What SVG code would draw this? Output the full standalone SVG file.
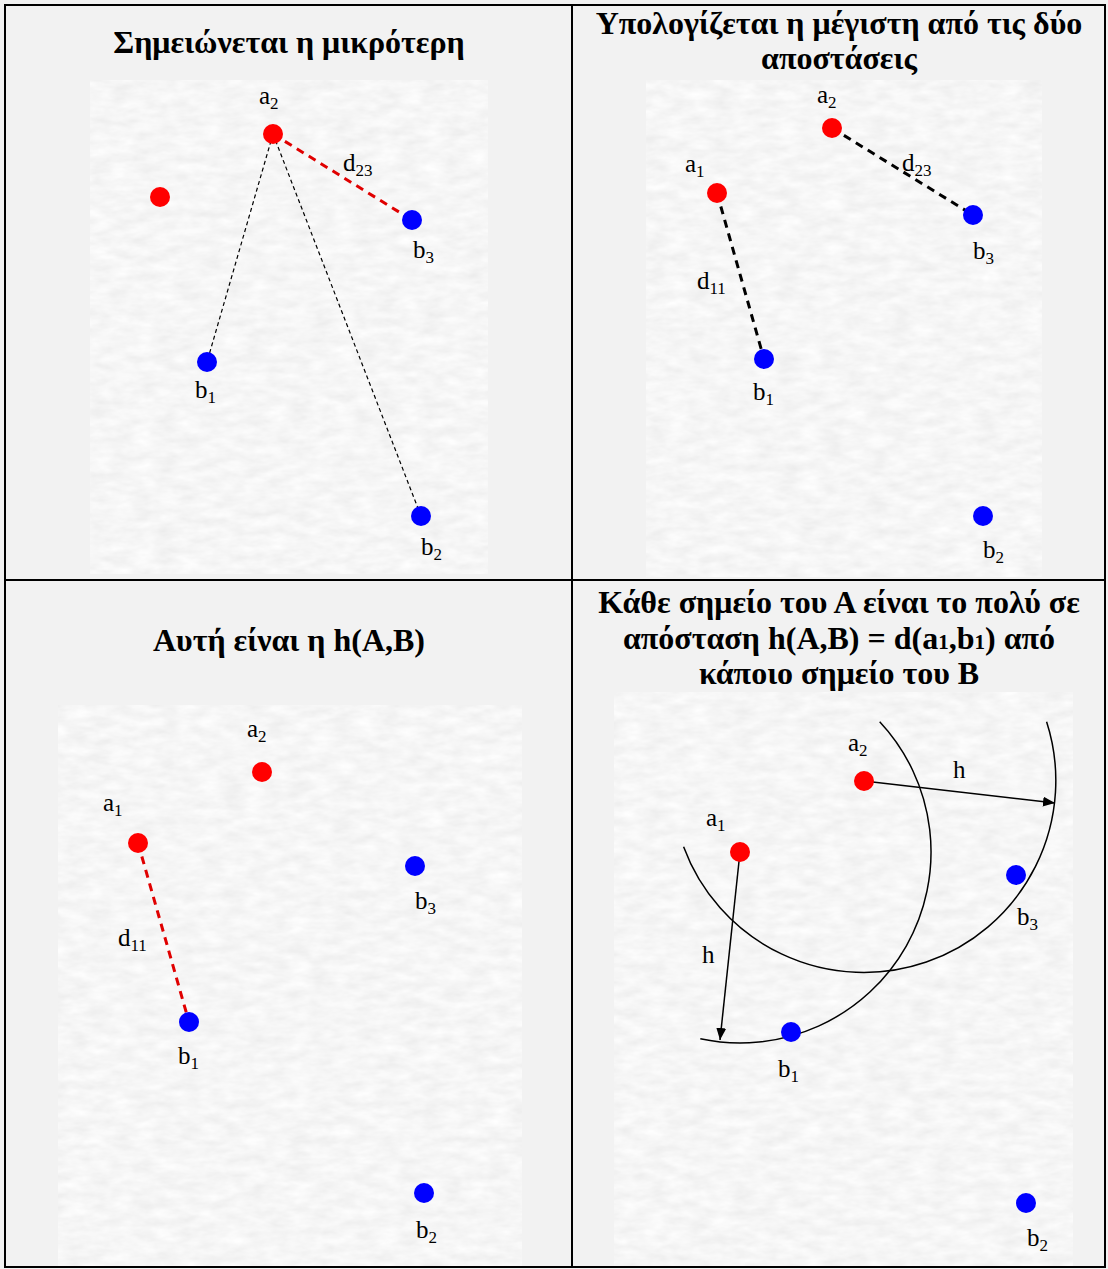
<svg xmlns="http://www.w3.org/2000/svg" width="1108" height="1269" viewBox="0 0 1108 1269">
<style>
.title{font-family:"Liberation Serif","Times New Roman",serif;font-weight:bold;font-size:32px;fill:#000;text-anchor:middle}
.lbl{font-family:"Liberation Serif","Times New Roman",serif;font-size:25px;fill:#000}
.sub{font-size:17px}
.red{fill:#ff0000}
.blue{fill:#0000ff}
.thin{stroke:#000;stroke-width:1.2;stroke-dasharray:4 3;fill:none}
.thickr{stroke:#e00000;stroke-width:3;stroke-dasharray:8 6;fill:none}
.thickb{stroke:#000;stroke-width:3;stroke-dasharray:8 6;fill:none}
.arc{stroke:#000;stroke-width:1.5;fill:none}
.arrow{stroke:#000;stroke-width:1.5;fill:none;marker-end:url(#ah)}
</style>
<defs>
<filter id="tex" x="0" y="0" width="1" height="1">
<feTurbulence type="fractalNoise" baseFrequency="0.045 0.11" numOctaves="3" seed="4"/>
<feColorMatrix type="matrix" values="0.18 0 0 0 0.83  0.18 0 0 0 0.83  0.18 0 0 0 0.83  0 0 0 0 1"/>
</filter>
<marker id="ah" viewBox="0 0 12 10" refX="12" refY="5" markerWidth="12" markerHeight="10" markerUnits="userSpaceOnUse" orient="auto">
<path d="M0,0 L12,5 L0,10 z" fill="#000"/>
</marker>
</defs>
<rect x="0" y="0" width="1108" height="1269" fill="#f2f2f2"/>
<!-- panel image backgrounds -->
<rect x="90" y="80" width="398" height="494" filter="url(#tex)"/>
<rect x="646" y="80" width="396" height="497" filter="url(#tex)"/>
<rect x="58" y="705" width="464" height="562" filter="url(#tex)"/>
<rect x="614" y="692" width="459" height="575" filter="url(#tex)"/>
<!-- table grid -->
<g id="grid" stroke="#000" stroke-width="2" fill="none">
<rect x="5" y="5" width="1100" height="1262"/>
<line x1="572" y1="5" x2="572" y2="1267"/>
<line x1="5" y1="580" x2="1105" y2="580"/>
</g>
<!-- titles -->
<g id="titles">
<text class="title" x="289" y="53">Σημειώνεται η μικρότερη</text>
<text class="title" x="839" y="34">Υπολογίζεται η μέγιστη από τις δύο</text>
<text class="title" x="839" y="69">αποστάσεις</text>
<text class="title" x="289" y="651">Αυτή είναι η h(A,B)</text>
<text class="title" x="839" y="613">Κάθε σημείο του Α είναι το πολύ σε</text>
<text class="title" x="839" y="649">απόσταση h(A,B) = d(a<tspan font-size="21px">1</tspan>,b<tspan font-size="21px">1</tspan>) από</text>
<text class="title" x="839" y="684">κάποιο σημείο του Β</text>
</g>
<!-- connectors -->
<g id="connectors">
<line class="thin" x1="273" y1="134" x2="207" y2="362"/>
<line class="thin" x1="273" y1="134" x2="421" y2="516"/>
<line class="thickr" x1="273" y1="134" x2="412" y2="220"/>
<line class="thickb" x1="832" y1="128" x2="973" y2="215"/>
<line class="thickb" x1="717" y1="193" x2="764" y2="359"/>
<line class="thickr" x1="138" y1="843" x2="189" y2="1022"/>
<path class="arc" d="M879.7,721.7 A191,191 0 0 1 700.3,1038.8"/>
<path class="arc" d="M683.6,846.7 A192,192 0 0 0 1046.6,721.7"/>
<line class="arrow" x1="864" y1="781" x2="1055" y2="803"/>
<line class="arrow" x1="740" y1="852" x2="720" y2="1040"/>
</g>
<!-- labels on connectors -->
<g id="edge-labels">
<text class="lbl" x="343" y="171">d<tspan class="sub" dy="5">23</tspan></text>
<text class="lbl" x="902" y="171">d<tspan class="sub" dy="5">23</tspan></text>
<text class="lbl" x="697" y="289">d<tspan class="sub" dy="5">11</tspan></text>
<text class="lbl" x="118" y="946">d<tspan class="sub" dy="5">11</tspan></text>
<text class="lbl" x="953" y="778">h</text>
<text class="lbl" x="702" y="963">h</text>
</g>
<!-- panel 1 nodes -->
<g id="p1-a2"><circle class="red" cx="273" cy="134" r="10"/><text class="lbl" x="259" y="104">a<tspan class="sub" dy="5">2</tspan></text></g>
<g id="p1-a1"><circle class="red" cx="160" cy="197" r="10"/></g>
<g id="p1-b3"><circle class="blue" cx="412" cy="220" r="10"/><text class="lbl" x="413" y="258">b<tspan class="sub" dy="5">3</tspan></text></g>
<g id="p1-b1"><circle class="blue" cx="207" cy="362" r="10"/><text class="lbl" x="195" y="398">b<tspan class="sub" dy="5">1</tspan></text></g>
<g id="p1-b2"><circle class="blue" cx="421" cy="516" r="10"/><text class="lbl" x="421" y="555">b<tspan class="sub" dy="5">2</tspan></text></g>
<!-- panel 2 nodes -->
<g id="p2-a2"><circle class="red" cx="832" cy="128" r="10"/><text class="lbl" x="817" y="103">a<tspan class="sub" dy="5">2</tspan></text></g>
<g id="p2-a1"><circle class="red" cx="717" cy="193" r="10"/><text class="lbl" x="685" y="172">a<tspan class="sub" dy="5">1</tspan></text></g>
<g id="p2-b3"><circle class="blue" cx="973" cy="215" r="10"/><text class="lbl" x="973" y="259">b<tspan class="sub" dy="5">3</tspan></text></g>
<g id="p2-b1"><circle class="blue" cx="764" cy="359" r="10"/><text class="lbl" x="753" y="400">b<tspan class="sub" dy="5">1</tspan></text></g>
<g id="p2-b2"><circle class="blue" cx="983" cy="516" r="10"/><text class="lbl" x="983" y="558">b<tspan class="sub" dy="5">2</tspan></text></g>
<!-- panel 3 nodes -->
<g id="p3-a2"><circle class="red" cx="262" cy="772" r="10"/><text class="lbl" x="247" y="737">a<tspan class="sub" dy="5">2</tspan></text></g>
<g id="p3-a1"><circle class="red" cx="138" cy="843" r="10"/><text class="lbl" x="103" y="811">a<tspan class="sub" dy="5">1</tspan></text></g>
<g id="p3-b3"><circle class="blue" cx="415" cy="866" r="10"/><text class="lbl" x="415" y="909">b<tspan class="sub" dy="5">3</tspan></text></g>
<g id="p3-b1"><circle class="blue" cx="189" cy="1022" r="10"/><text class="lbl" x="178" y="1064">b<tspan class="sub" dy="5">1</tspan></text></g>
<g id="p3-b2"><circle class="blue" cx="424" cy="1193" r="10"/><text class="lbl" x="416" y="1238">b<tspan class="sub" dy="5">2</tspan></text></g>
<!-- panel 4 nodes -->
<g id="p4-a2"><circle class="red" cx="864" cy="781" r="10"/><text class="lbl" x="848" y="751">a<tspan class="sub" dy="5">2</tspan></text></g>
<g id="p4-a1"><circle class="red" cx="740" cy="852" r="10"/><text class="lbl" x="706" y="826">a<tspan class="sub" dy="5">1</tspan></text></g>
<g id="p4-b3"><circle class="blue" cx="1016" cy="875" r="10"/><text class="lbl" x="1017" y="925">b<tspan class="sub" dy="5">3</tspan></text></g>
<g id="p4-b1"><circle class="blue" cx="791" cy="1032" r="10"/><text class="lbl" x="778" y="1077">b<tspan class="sub" dy="5">1</tspan></text></g>
<g id="p4-b2"><circle class="blue" cx="1026" cy="1203" r="10"/><text class="lbl" x="1027" y="1246">b<tspan class="sub" dy="5">2</tspan></text></g>
</svg>
